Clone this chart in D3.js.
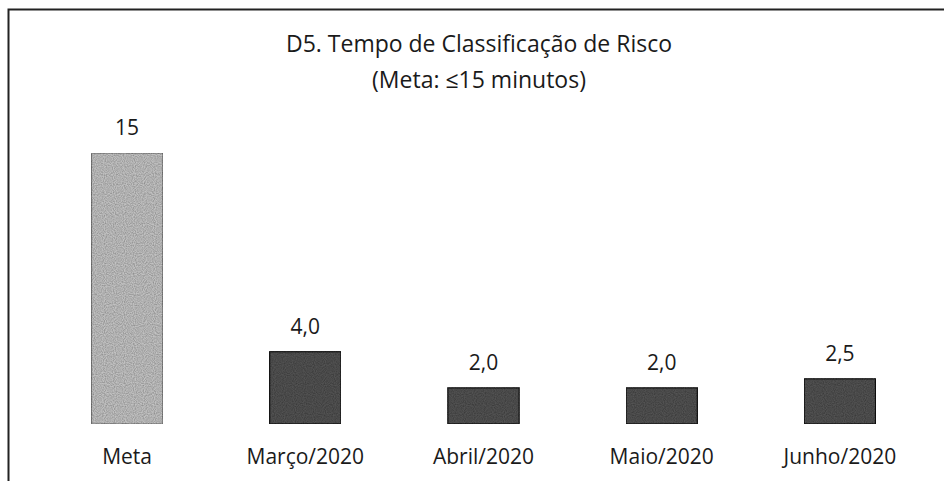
<!DOCTYPE html>
<html>
<head>
    <meta charset="utf-8">
    <title>D5. Tempo de Classificação de Risco</title>
    <script src="https://d3js.org/d3.v7.min.js"></script>
    <style>
        body { margin: 0; background: #fff; }
        svg text { font-family: "Open Sans", "Noto Sans", sans-serif; fill: #1a1a1a; }
        .title { font-size: 23px; }
        .label { font-size: 21px; }
    </style>
</head>
<body>
    <svg width="944" height="481"></svg>
    <script>
        // data
        const categories = ["Meta", "Março/2020", "Abril/2020", "Maio/2020", "Junho/2020"];
        const values = [15, 4.0, 2.0, 2.0, 2.5];
        const valueLabels = ["15", "4,0", "2,0", "2,0", "2,5"];
        const titleLines = ["D5. Tempo de Classificação de Risco", "(Meta: ≤15 minutos)"];

        const svg = d3.select("svg");
        const width = +svg.attr("width");
        const height = +svg.attr("height");

        // grainy look of the scanned bars
        const defs = svg.append("defs");
        const grain = defs.append("filter").attr("id", "grain")
            .attr("x", 0).attr("y", 0).attr("width", 1).attr("height", 1);
        grain.append("feTurbulence")
            .attr("type", "fractalNoise")
            .attr("baseFrequency", 0.9)
            .attr("numOctaves", 1)
            .attr("seed", 3)
            .attr("result", "noise");
        grain.append("feColorMatrix")
            .attr("in", "noise")
            .attr("type", "matrix")
            .attr("values", "0 0 0 0 0  0 0 0 0 0  0 0 0 0 0  0 0 0 0.9 -0.25")
            .attr("result", "dots");
        grain.append("feComposite")
            .attr("in", "dots").attr("in2", "SourceGraphic")
            .attr("operator", "in").attr("result", "dotsIn");
        const merge = grain.append("feMerge");
        merge.append("feMergeNode").attr("in", "SourceGraphic");
        merge.append("feMergeNode").attr("in", "dotsIn");

        // frame of the scanned page (no right or bottom edge visible)
        svg.append("path")
            .attr("d", `M8.5,${height} V9.5 H${width}`)
            .attr("fill", "none")
            .attr("stroke", "#222")
            .attr("stroke-width", 2);

        svg.selectAll(".title")
            .data(titleLines)
            .enter().append("text")
            .attr("class", "title")
            .attr("x", 479)
            .attr("y", (d, i) => 52 + i * 36)
            .attr("text-anchor", "middle")
            .text(d => d);

        const x = d3.scaleBand()
            .domain(categories)
            .range([38, 929])
            .paddingInner(0.6)
            .paddingOuter(0.3);

        const y = d3.scaleLinear()
            .domain([0, 15])
            .range([424, 153]);

        svg.selectAll(".bar")
            .data(values)
            .enter().append("rect")
            .attr("class", "bar")
            .attr("x", (d, i) => x(categories[i]))
            .attr("y", d => y(d))
            .attr("width", x.bandwidth())
            .attr("height", d => y(0) - y(d))
            .attr("fill", (d, i) => i === 0 ? "#c2c2c2" : "#525252")
            .attr("stroke", (d, i) => i === 0 ? "#7a7a7a" : "#151515")
            .attr("stroke-width", 1.2)
            .attr("filter", "url(#grain)");

        svg.selectAll(".value")
            .data(values)
            .enter().append("text")
            .attr("class", "label value")
            .attr("x", (d, i) => x(categories[i]) + x.bandwidth() / 2)
            .attr("y", d => y(d) - 18)
            .attr("text-anchor", "middle")
            .text((d, i) => valueLabels[i]);

        // category labels under the bars, no axis line drawn in the original
        const xAxis = d3.axisBottom(x).tickSize(0).tickPadding(0);
        const gx = svg.append("g")
            .attr("transform", "translate(0,424)")
            .call(xAxis);
        gx.select(".domain").remove();
        gx.selectAll("text")
            .attr("class", "label")
            .attr("dy", null)
            .attr("y", 40)
            .attr("font-family", null)
            .attr("font-size", null);
        gx.attr("font-family", null).attr("font-size", null);
    </script>
</body>
</html>
